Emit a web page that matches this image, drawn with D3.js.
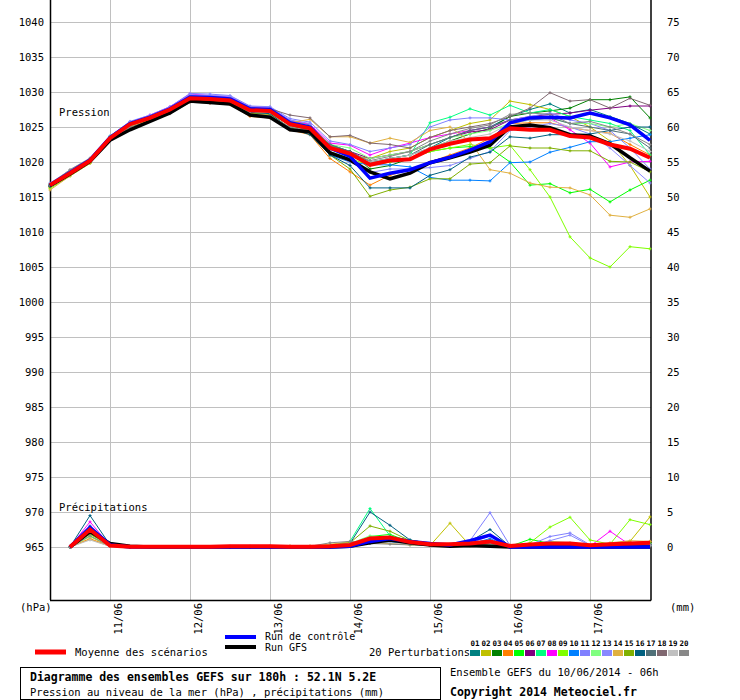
<!DOCTYPE html>
<html><head><meta charset="utf-8">
<script src="https://cdn.jsdelivr.net/npm/d3@7/dist/d3.min.js"></script>
<style>body{margin:0;background:#fff}svg{display:block}text{font-family:"DejaVu Sans Mono",monospace;fill:#000}</style>
</head><body><svg id="c" width="740" height="700"></svg>
<script>
// ---------- DATA ----------
const hours = [0,6,12,18,24,30,36,42,48,54,60,66,72,78,84,90,96,102,108,114,120,126,132,138,144,150,156,162,168,174,180];
const precipHours = [6,12,18,24,30,36,42,48,54,60,66,72,78,84,90,96,102,108,114,120,126,132,138,144,150,156,162,168,174,180];
const pressureTicks = [965,970,975,980,985,990,995,1000,1005,1010,1015,1020,1025,1030,1035,1040];
const precipTicks = [0,5,10,15,20,25,30,35,40,45,50,55,60,65,70,75];
const dateHours = [18,42,66,90,114,138,162];
const dateLabels = ["11/06","12/06","13/06","14/06","15/06","16/06","17/06"];
const pertNames = ["01","02","03","04","05","06","07","08","09","10","11","12","13","14","15","16","17","18","19","20"];
const pertColors = ["#008080","#c0c000","#008000","#ff8000","#00ff00","#800080","#00ff80","#ff00ff","#80ff00","#0080ff","#8080ff","#80ff80","#8888ff","#e0b040","#80b000","#006080","#507078","#806870","#c0c0c0","#888888"];

const meanPressure = [1016.7,1018.4,1020.2,1023.4,1025.4,1026.3,1027.5,1029.1,1029.0,1028.8,1027.4,1027.3,1025.4,1024.8,1022.0,1021.2,1019.6,1020.2,1020.4,1021.8,1022.6,1023.2,1023.4,1024.8,1024.6,1024.6,1023.7,1023.5,1022.5,1021.9,1020.6];
const controlPressure = [1016.7,1018.5,1020.3,1023.5,1025.5,1026.4,1027.6,1029.3,1029.2,1029.0,1027.6,1027.5,1025.6,1025.0,1022.0,1020.8,1017.7,1018.4,1018.9,1019.9,1020.7,1021.7,1022.9,1025.6,1026.3,1026.4,1026.3,1027.0,1026.3,1025.3,1023.1];
const gfsPressure = [1016.6,1018.3,1020.1,1023.1,1024.6,1025.8,1027.0,1028.7,1028.5,1028.3,1026.7,1026.4,1024.6,1024.3,1021.3,1020.3,1018.6,1017.6,1018.4,1019.9,1020.6,1021.4,1022.4,1025.0,1025.3,1024.9,1023.9,1023.7,1022.6,1020.6,1018.7];

const p01 = [1016.6,1018.5,1020.1,1023.5,1025.5,1026.4,1027.6,1029.3,1029.2,1029.0,1027.6,1027.5,1025.6,1025.0,1022.5,1021.5,1020.0,1020.5,1021.0,1022.0,1023.5,1024.5,1025.0,1026.5,1027.5,1028.3,1027.0,1027.5,1026.5,1025.5,1024.0];
const p02 = [1016.4,1018.3,1020.0,1023.3,1025.2,1026.1,1027.3,1028.9,1028.8,1028.6,1027.2,1027.0,1025.2,1024.7,1022.0,1021.0,1020.5,1021.5,1022.0,1023.5,1024.5,1025.5,1026.0,1028.7,1028.2,1027.5,1026.5,1025.0,1023.0,1019.5,1015.0];
const p03 = [1016.7,1018.4,1020.3,1023.5,1025.5,1026.4,1027.6,1029.2,1029.1,1029.0,1027.6,1027.4,1025.5,1024.9,1022.3,1021.5,1019.0,1019.5,1020.5,1022.0,1023.0,1024.0,1024.8,1026.5,1027.0,1027.3,1027.7,1028.9,1028.9,1029.3,1026.3];
const p04 = [1016.4,1018.1,1019.9,1023.1,1025.0,1025.9,1027.0,1028.6,1028.4,1028.2,1026.5,1026.3,1024.6,1023.9,1020.5,1018.6,1016.7,1018.1,1018.9,1020.0,1021.0,1022.0,1023.4,1025.5,1025.6,1025.6,1024.9,1024.5,1024.1,1022.5,1021.0];
const p05 = [1016.8,1018.6,1020.3,1023.6,1025.6,1026.5,1027.7,1029.3,1029.2,1029.0,1027.5,1027.4,1025.6,1025.1,1022.5,1021.0,1019.5,1020.0,1020.5,1021.5,1022.0,1022.2,1022.0,1020.0,1016.7,1016.9,1015.6,1016.1,1014.3,1016.0,1017.4];
const p06 = [1016.6,1018.4,1020.2,1023.4,1025.5,1026.4,1027.6,1029.4,1029.3,1029.2,1027.8,1027.6,1025.8,1025.3,1022.2,1021.5,1020.5,1021.0,1021.5,1022.5,1023.5,1024.3,1024.6,1026.0,1026.5,1026.8,1027.0,1027.4,1027.7,1028.0,1028.0];
const p07 = [1016.9,1018.7,1020.4,1023.7,1025.7,1026.5,1027.7,1029.2,1029.1,1028.9,1027.4,1027.3,1025.3,1024.7,1022.0,1021.0,1019.8,1020.5,1021.0,1025.6,1026.4,1027.6,1026.7,1028.1,1027.0,1027.5,1026.5,1026.0,1025.5,1024.5,1021.0];
const p08 = [1016.8,1018.6,1020.3,1023.5,1025.7,1026.7,1027.9,1029.7,1029.5,1029.3,1027.9,1027.8,1025.9,1025.4,1022.7,1022.4,1021.0,1022.0,1022.7,1023.5,1024.0,1024.5,1025.0,1026.0,1026.3,1026.3,1024.6,1022.7,1019.3,1020.0,1020.1];
const p09 = [1016.2,1018.0,1019.8,1023.3,1025.2,1026.1,1027.3,1029.0,1028.9,1028.7,1027.3,1027.1,1025.2,1024.5,1021.5,1020.5,1019.5,1020.0,1020.5,1021.5,1022.0,1022.5,1022.0,1022.4,1018.9,1015.0,1009.3,1006.3,1005.0,1007.9,1007.6];
const p10 = [1016.7,1018.5,1020.2,1023.4,1025.5,1026.3,1027.5,1029.5,1029.4,1029.2,1027.7,1027.6,1025.7,1025.2,1021.0,1020.0,1019.6,1019.6,1019.3,1017.8,1017.4,1017.4,1017.3,1019.9,1020.0,1021.4,1022.1,1022.9,1022.9,1023.4,1023.9];
const p11 = [1017.0,1018.8,1020.5,1023.7,1025.8,1026.7,1027.9,1029.8,1029.7,1029.5,1028.0,1027.9,1026.2,1025.7,1023.0,1022.5,1021.5,1022.0,1022.5,1025.0,1026.0,1026.3,1026.3,1026.0,1026.5,1027.0,1026.0,1025.5,1024.5,1022.0,1019.0];
const p12 = [1016.8,1018.6,1020.4,1023.6,1025.6,1026.5,1027.7,1029.4,1029.3,1029.1,1027.7,1027.6,1025.8,1025.2,1022.5,1022.0,1020.5,1021.0,1021.5,1022.5,1023.5,1024.0,1024.5,1025.5,1026.0,1026.3,1025.5,1025.5,1025.0,1025.5,1024.5];
const p13 = [1016.9,1018.7,1020.4,1023.6,1025.7,1026.6,1027.8,1029.6,1029.5,1029.4,1027.9,1027.8,1026.0,1025.5,1021.5,1020.0,1018.5,1019.0,1019.0,1019.2,1019.5,1020.5,1021.5,1024.5,1025.0,1025.5,1025.0,1024.0,1022.0,1019.5,1017.0];
const p14 = [1016.0,1018.0,1019.8,1023.2,1025.1,1026.0,1027.1,1028.7,1028.6,1028.4,1026.9,1026.7,1025.6,1026.1,1023.6,1023.6,1022.7,1023.4,1022.8,1024.5,1025.0,1022.9,1018.9,1018.4,1017.0,1016.4,1016.3,1015.3,1012.4,1012.1,1013.3];
const p15 = [1016.5,1018.2,1020.0,1023.3,1025.2,1026.1,1027.2,1028.8,1028.7,1028.5,1027.0,1026.8,1024.9,1024.2,1021.0,1019.0,1015.1,1016.0,1016.4,1017.6,1017.6,1019.7,1019.9,1022.3,1022.0,1022.0,1021.6,1021.6,1020.1,1020.0,1018.6];
const p16 = [1016.5,1018.3,1020.1,1023.4,1025.3,1026.2,1027.4,1029.0,1028.9,1028.7,1027.1,1026.9,1024.8,1023.9,1021.0,1019.5,1016.3,1016.3,1016.3,1018.1,1018.9,1020.7,1021.4,1023.6,1023.4,1023.9,1023.9,1024.0,1024.5,1025.0,1025.0];
const p17 = [1016.6,1018.4,1020.2,1023.5,1025.4,1026.3,1027.4,1029.1,1028.9,1028.8,1027.3,1027.1,1025.2,1024.5,1022.5,1021.5,1020.0,1020.5,1021.0,1022.5,1023.5,1024.5,1025.0,1026.0,1026.0,1026.3,1025.5,1025.0,1024.5,1024.0,1022.0];
const p18 = [1016.7,1018.5,1020.2,1023.5,1025.4,1026.4,1027.5,1029.2,1029.1,1028.9,1027.7,1027.6,1026.7,1026.3,1023.6,1023.8,1022.7,1022.5,1022.0,1023.5,1024.5,1025.0,1025.5,1026.5,1027.7,1029.9,1028.7,1028.9,1027.7,1029.1,1028.1];
const p19 = [1016.9,1018.9,1020.6,1023.4,1025.3,1026.2,1027.4,1029.0,1028.9,1028.7,1027.2,1027.1,1025.3,1024.8,1022.0,1021.0,1020.0,1020.5,1021.0,1022.0,1023.0,1023.5,1024.0,1025.5,1026.0,1026.0,1025.0,1024.5,1024.0,1023.0,1021.5];
const p20 = [1016.8,1018.9,1020.5,1023.3,1025.0,1025.8,1026.9,1028.5,1028.4,1028.3,1026.8,1026.6,1025.0,1024.4,1022.3,1021.3,1020.2,1020.8,1021.5,1023.0,1024.0,1024.8,1025.3,1026.8,1027.0,1026.8,1025.5,1025.8,1025.0,1024.0,1022.5];
const pertPressure = [p01,p02,p03,p04,p05,p06,p07,p08,p09,p10,p11,p12,p13,p14,p15,p16,p17,p18,p19,p20];

const meanPrecip = [0,2.5,0.2,0.05,0.05,0.05,0.05,0.05,0.1,0.1,0.1,0.05,0.05,0.1,0.3,1.2,1.35,0.7,0.4,0.4,0.5,0.8,0.15,0.35,0.5,0.5,0.25,0.4,0.5,0.6];
const controlPrecip = [0,2.8,0.3,0,0,0,0,0,0,0,0,0,0,0,0.1,0.8,1.2,0.8,0.5,0.3,0.9,1.7,0,0,0,0,0,0,0,0];
const gfsPrecip = [0,2.2,0.5,0.1,0,0,0,0,0,0,0,0,0,0,0.1,0.6,1.0,0.6,0.3,0.1,0.2,0.1,0,0,0,0,0,0,0,0];
const r01 = [0,3.0,0.2,0,0,0,0,0,0,0,0,0,0,0,0.4,1.2,1.5,1.0,0.5,0.2,0.6,1.0,0,0.1,0.2,0.3,0,0.1,0.2,0.4];
const r02 = [0,1.5,0.1,0,0,0,0,0,0,0,0,0.1,0.1,0.3,0.5,0.8,0.5,0.3,0.2,3.4,0.2,0.1,0,0.3,0.2,0.3,0,0.5,0.8,4.3];
const r03 = [0,2.0,0.2,0,0,0,0,0,0,0,0,0,0,0.1,0.3,1.0,1.5,0.6,0.3,0.1,0.3,0.5,0,0.1,0.2,0.1,0,0.1,0.2,0.3];
const r04 = [0,1.2,0.1,0,0,0,0,0,0,0.05,0.1,0.1,0.1,0.3,0.6,0.9,0.8,0.5,0.3,0.1,0.2,0.3,0.2,0.3,0.3,0.4,0.3,0.5,0.6,0.8];
const r05 = [0,2.2,0.2,0,0,0,0,0,0,0,0,0,0,0.1,0.4,1.5,1.8,0.7,0.3,0.4,0.6,0.4,0.1,1.1,0.5,0.3,0.1,0.2,0.5,0.4];
const r06 = [0,2.6,0.2,0,0,0,0,0,0,0,0,0,0,0,0.2,0.9,1.2,0.6,0.4,0.2,0.3,0.4,0,0.1,0.1,0.2,0,0.1,0.1,0.2];
const r07 = [0,2.4,0.2,0,0,0,0,0,0,0,0,0,0,0.2,0.8,5.5,1.6,0.8,0.3,0.2,0.4,0.5,0,0.1,0.2,0.3,0,0.2,0.3,0.5];
const r08 = [0,3.6,0.2,0,0,0,0,0,0,0,0,0,0,0,0.2,0.9,1.0,0.5,0.2,0.1,0.3,0.6,0,0.1,0.3,0.4,0.1,2.25,0.3,0.4];
const r09 = [0,1.8,0.2,0,0,0,0,0,0,0,0,0,0,0.1,0.3,1.4,1.3,0.6,0.3,0.2,0.2,0.3,0,0.6,2.85,4.25,1.0,0.4,3.9,3.2];
const r10 = [0,2.5,0.2,0,0,0,0,0,0,0,0,0,0,0,0.1,0.5,0.7,0.5,0.3,0.2,0.4,1.2,0,0,0.1,0.1,0,0.1,0.1,0.2];
const r11 = [0,2.9,0.2,0,0,0,0,0,0,0,0,0,0,0,0.2,0.7,1.0,0.6,0.4,0.2,0.9,4.9,0.2,0.3,1.5,2.0,0.3,0.5,0.3,0.4];
const r12 = [0,1.5,0.2,0,0,0,0,0,0,0,0,0,0,0.2,0.5,1.6,1.4,0.8,0.5,0.3,0.5,0.7,0.1,0.4,0.8,0.6,0.2,0.3,0.4,0.5];
const r13 = [0,2.7,0.2,0,0,0,0,0,0,0,0,0,0,0,0.1,0.6,0.9,0.5,0.3,0.1,0.5,1.6,0,0.2,0.9,1.7,0.2,0.3,0.2,0.3];
const r14 = [0,1.1,0.1,0,0,0,0,0,0,0.1,0.1,0.1,0.1,0.4,0.7,0.6,0.5,0.4,0.2,0.1,0.2,0.4,0.3,0.2,0.3,0.4,0.2,0.6,0.9,0.8];
const r15 = [0,1.9,0.2,0,0,0,0,0,0,0,0,0,0,0.2,0.6,3.0,2.25,0.9,0.4,0.3,0.7,0.3,0.1,0.2,0.3,0.3,0.1,0.3,0.5,0.6];
const r16 = [0,4.5,0.3,0,0,0,0,0,0,0,0,0,0,0.1,0.5,5.0,3.1,1.0,0.5,0.3,0.8,2.5,0.1,0.1,0.2,0.3,0,0.1,0.2,0.3];
const r17 = [0,2.3,0.2,0,0,0,0,0,0,0,0,0,0,0.1,0.3,1.3,1.4,0.8,0.4,0.2,0.4,0.9,0,0.1,0.2,0.3,0,0.1,0.2,0.3];
const r18 = [0,2.0,0.2,0,0,0,0,0,0,0,0,0,0,0.1,0.4,1.0,1.1,0.5,0.3,0.2,0.3,0.5,0,0.1,0.2,0.2,0,0.1,0.2,0.3];
const r19 = [0,1.0,0.1,0,0,0,0,0,0,0,0,0,0,0.2,0.5,0.7,0.6,0.4,0.2,0.1,0.2,0.3,0,0.1,0.1,0.2,0,0.1,0.2,0.2];
const r20 = [0,1.6,0.1,0,0,0,0,0.05,0.1,0.1,0.1,0.1,0.1,0.6,0.8,0.5,0.4,0.3,0.2,0.1,0.2,0.2,0,0.1,0.1,0.1,0,0.1,0.1,0.1];
const pertPrecip = [r01,r02,r03,r04,r05,r06,r07,r08,r09,r10,r11,r12,r13,r14,r15,r16,r17,r18,r19,r20];

// ---------- CHART ----------
const svg = d3.select("#c");
svg.append("rect").attr("width",740).attr("height",700).attr("fill","#fff");
const X0 = 50, X1 = 651, YB = 600;
const x = d3.scaleLinear().domain([0,180]).range([50,650]);
const y = d3.scaleLinear().domain([965,1040]).range([547,22]);
const yR = d3.scaleLinear().domain([0,75]).range([547,22]);

// gridlines
const g = svg.append("g");
g.selectAll("line.h").data(pressureTicks).join("line")
  .attr("x1",X0).attr("x2",X1).attr("y1",d=>y(d)+0.5).attr("y2",d=>y(d)+0.5)
  .attr("stroke","#c0c0c0").attr("stroke-width",1);
g.selectAll("line.v").data(dateHours).join("line")
  .attr("x1",d=>x(d)+0.5).attr("x2",d=>x(d)+0.5).attr("y1",0).attr("y2",YB)
  .attr("stroke","#c0c0c0").attr("stroke-width",1);

// axes
const axL = svg.append("g").attr("transform",`translate(${X0},0)`)
  .call(d3.axisLeft(y).tickValues(pressureTicks).tickSize(0).tickPadding(6).tickFormat(d3.format("d")));
axL.select(".domain").remove();
axL.selectAll("text").attr("font-size",10.5).attr("font-family","DejaVu Sans Mono");
const axR = svg.append("g").attr("transform",`translate(${X1},0)`)
  .call(d3.axisRight(yR).tickValues(precipTicks).tickSize(0).tickPadding(16).tickFormat(d3.format("d")));
axR.select(".domain").remove();
axR.selectAll("text").attr("font-size",10.5).attr("font-family","DejaVu Sans Mono");

svg.append("line").attr("x1",X0+0.5).attr("x2",X0+0.5).attr("y1",0).attr("y2",YB).attr("stroke","#000").attr("stroke-width",1.5);
svg.append("line").attr("x1",X1).attr("x2",X1).attr("y1",0).attr("y2",YB+0.5).attr("stroke","#000").attr("stroke-width",1.5);
svg.append("line").attr("x1",X0).attr("x2",X1).attr("y1",YB+0.5).attr("y2",YB+0.5).attr("stroke","#000").attr("stroke-width",1.5);

// date labels
svg.selectAll("text.date").data(dateHours).join("text")
  .attr("transform",(d)=>`translate(${x(d)+12},603) rotate(-90)`)
  .attr("text-anchor","end").attr("font-size",10.5).text((d,i)=>dateLabels[i]);

svg.append("text").attr("x",20).attr("y",607).attr("dominant-baseline","central").attr("font-size",10.5).text("(hPa)");
svg.append("text").attr("x",670).attr("y",607).attr("dominant-baseline","central").attr("font-size",10.5).text("(mm)");
svg.append("text").attr("x",59).attr("y",112).attr("dominant-baseline","central").attr("font-size",10.5).text("Pression");
svg.append("text").attr("x",59).attr("y",507).attr("dominant-baseline","central").attr("font-size",10.5).text("Précipitations");

// lines
const lineP = d3.line().x((d,i)=>x(hours[i])).y(d=>y(d));
const lineR = d3.line().x((d,i)=>x(precipHours[i])).y(d=>yR(d));
const plot = svg.append("g");
function crosses(sel, xs, ys, color){
  sel.append("path").attr("d", xs.map((xv,i)=>`M${xv-1.5},${ys[i]}H${xv+1.5}M${xv},${ys[i]-1.5}V${ys[i]+1.5}`).join(""))
    .attr("stroke",color).attr("stroke-width",1).attr("fill","none");
}
pertPressure.forEach((s,k)=>{
  plot.append("path").attr("d",lineP(s)).attr("fill","none").attr("stroke",pertColors[k]).attr("stroke-width",1);
  crosses(plot, s.map((d,i)=>x(hours[i])), s.map(d=>y(d)), pertColors[k]);
});
pertPrecip.forEach((s,k)=>{
  plot.append("path").attr("d",lineR(s)).attr("fill","none").attr("stroke",pertColors[k]).attr("stroke-width",1);
  crosses(plot, s.map((d,i)=>x(precipHours[i])), s.map(d=>yR(d)), pertColors[k]);
});
const mains = [[gfsPressure,gfsPrecip,"#000",3.5],[controlPressure,controlPrecip,"#0000ff",3.5],[meanPressure,meanPrecip,"#ff0000",4]];
mains.forEach(([p,r,c,w])=>{
  plot.append("path").attr("d",lineP(p)).attr("fill","none").attr("stroke",c).attr("stroke-width",w);
  plot.append("path").attr("d",lineR(r)).attr("fill","none").attr("stroke",c).attr("stroke-width",w);
});

// legend
svg.append("line").attr("x1",35).attr("x2",66).attr("y1",652).attr("y2",652).attr("stroke","#ff0000").attr("stroke-width",5);
svg.append("text").attr("x",75).attr("y",652).attr("dominant-baseline","central").attr("font-size",10.5).text("Moyenne des scénarios");
svg.append("line").attr("x1",225).attr("x2",256).attr("y1",637).attr("y2",637).attr("stroke","#0000ff").attr("stroke-width",4);
svg.append("text").attr("x",265).attr("y",636.5).attr("dominant-baseline","central").attr("font-size",10).text("Run de contrôle");
svg.append("line").attr("x1",225).attr("x2",256).attr("y1",647).attr("y2",647).attr("stroke","#000").attr("stroke-width",4);
svg.append("text").attr("x",265).attr("y",647.5).attr("dominant-baseline","central").attr("font-size",10).text("Run GFS");
svg.append("text").attr("x",369).attr("y",652).attr("dominant-baseline","central").attr("font-size",10.5).text("20 Perturbations");
svg.selectAll("rect.sw").data(pertColors).join("rect")
  .attr("x",(d,i)=>470+11*i).attr("y",650).attr("width",10).attr("height",6).attr("fill",d=>d);
svg.selectAll("text.sn").data(pertNames).join("text")
  .attr("x",(d,i)=>475+11*i).attr("y",646).attr("text-anchor","middle").attr("font-size",7.5).attr("font-weight","bold").text(d=>d);

svg.append("rect").attr("x",20.5).attr("y",667.5).attr("width",420).attr("height",32).attr("fill","none").attr("stroke","#000").attr("stroke-width",1);
svg.append("text").attr("x",30).attr("y",677).attr("dominant-baseline","central").attr("font-size",11.5).attr("font-weight","bold").text("Diagramme des ensembles GEFS sur 180h : 52.1N 5.2E");
svg.append("text").attr("x",30).attr("y",691.5).attr("dominant-baseline","central").attr("font-size",10.5).text("Pression au niveau de la mer (hPa) , précipitations (mm)");
svg.append("text").attr("x",450).attr("y",672).attr("dominant-baseline","central").attr("font-size",10.5).text("Ensemble GEFS du 10/06/2014 - 06h");
svg.append("text").attr("x",450).attr("y",691.5).attr("dominant-baseline","central").attr("font-size",11.5).attr("font-weight","bold").text("Copyright 2014 Meteociel.fr");
</script></body></html>
